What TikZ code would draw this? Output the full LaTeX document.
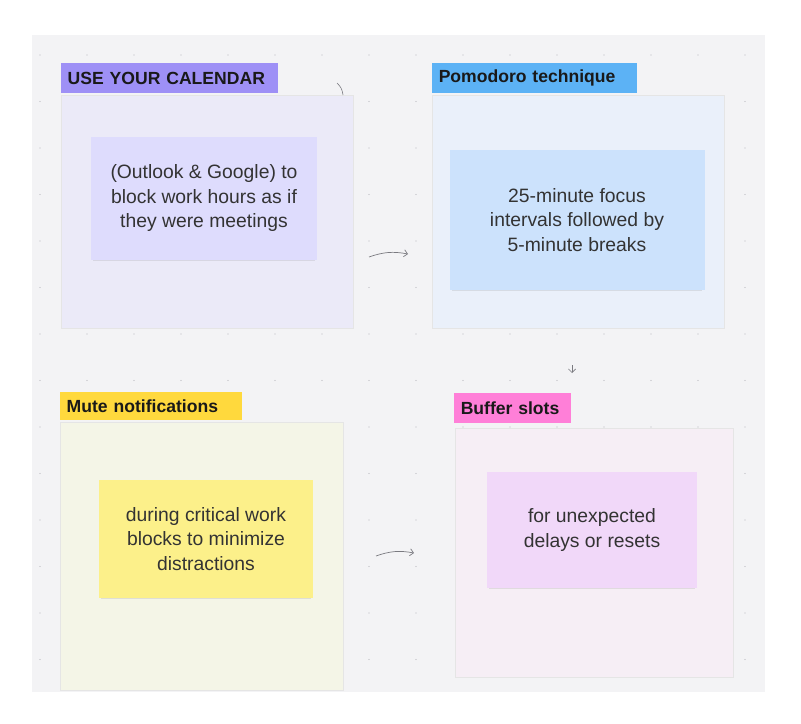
\documentclass[tikz,border=0pt]{standalone}
\usepackage{fontspec}
\setmainfont{Liberation Sans}
\usetikzlibrary{arrows.meta,shadows}
\definecolor{board}{HTML}{F3F3F5}
\definecolor{dotc}{HTML}{B8B8BE}
\definecolor{linec}{HTML}{7A7A80}
\definecolor{frameA}{HTML}{EBEAF8}
\definecolor{frameB}{HTML}{EAF0FA}
\definecolor{frameC}{HTML}{F4F5E7}
\definecolor{frameD}{HTML}{F6EEF5}
\definecolor{tagA}{HTML}{9E90F6}
\definecolor{tagB}{HTML}{5CB2F5}
\definecolor{tagC}{HTML}{FFD93D}
\definecolor{tagD}{HTML}{FF7FD8}
\definecolor{noteA}{HTML}{DEDCFD}
\definecolor{noteB}{HTML}{CCE2FC}
\definecolor{noteC}{HTML}{FCF08A}
\definecolor{noteD}{HTML}{F1D8F9}
\tikzset{
  frame/.style={draw=black!10, fill=#1, line width=0.5pt},
  tag/.style={fill=#1, anchor=north west, inner sep=0pt, font=\fontsize{15}{18}\selectfont\bfseries, text=black!90},
  sticky/.style={fill=#1, drop shadow={opacity=0.18, shadow xshift=0pt, shadow yshift=-2pt, shadow scale=0.98}, align=center,
    font=\fontsize{16.5}{21}\selectfont, text=black!80},
  flow/.style={draw=linec, line width=0.6pt, -{Straight Barb[length=3pt]}}
}
\begin{document}
\begin{tikzpicture}[x=0.03cm, y=-0.03cm]
\useasboundingbox (0,0) rectangle (801,724);
\fill[white] (0,0) rectangle (801,724);
\fill[board] (32,35) rectangle (765,692);
% dot grid
\foreach \i in {0,...,15} {
  \foreach \j in {0,...,13} {
    \fill[dotc] (40+47*\i,55+46.5*\j) circle (0.7);
  }
}
% frames
\draw[frame=frameA] (61,95) rectangle (353,328);
\draw[frame=frameB] (432,95) rectangle (724,328);
\draw[frame=frameC] (60,422) rectangle (343,690);
\draw[frame=frameD] (455,428) rectangle (733,677);
% titles
\node[tag=tagA, minimum width=217*0.03cm, minimum height=30*0.03cm, text width=211*0.03cm, align=left] (calendar) at (61,63) {\hspace{3pt}USE YOUR CALENDAR};
\node[tag=tagB, minimum width=205*0.03cm, minimum height=30*0.03cm, text width=199*0.03cm, align=left] (pomodoro) at (432,63) {\hspace{3pt}Pomodoro technique};
\node[tag=tagC, minimum width=182*0.03cm, minimum height=28*0.03cm, text width=176*0.03cm, align=left] (mute) at (60,392) {\hspace{3pt}Mute notifications};
\node[tag=tagD, minimum width=117*0.03cm, minimum height=30*0.03cm, text width=111*0.03cm, align=left] (buffer) at (454,393) {\hspace{3pt}Buffer slots};
% stickies
\node[sticky=noteA, minimum width=226*0.03cm, minimum height=123*0.03cm] (outlook) at (204,198) {(Outlook \& Google) to\\block work hours as if\\they were meetings};
\node[sticky=noteB, minimum width=255*0.03cm, minimum height=140*0.03cm] (focus) at (577,220) {25-minute focus\\intervals followed by\\5-minute breaks};
\node[sticky=noteC, minimum width=214*0.03cm, minimum height=118*0.03cm] (critical) at (206,539) {during critical work\\blocks to minimize\\distractions};
\node[sticky=noteD, minimum width=210*0.03cm, minimum height=116*0.03cm] (delays) at (592,530) {for unexpected\\delays or resets};
% connectors
\coordinate (a1) at (369,257); \coordinate (a2) at (408,254);
\coordinate (b1) at (376,556); \coordinate (b2) at (414,553);
\coordinate (c1) at (572,365); \coordinate (c2) at (572,373);
\coordinate (d1) at (337,83); \coordinate (d2) at (343,95);
\draw[flow] (a1) to[bend left=15] (a2);
\draw[flow] (b1) to[bend left=15] (b2);
\draw[flow] (c1) -- (c2);
\draw[draw=linec, line width=0.5pt] (d1) to[bend left=20] (d2);
\end{tikzpicture}
\end{document}
